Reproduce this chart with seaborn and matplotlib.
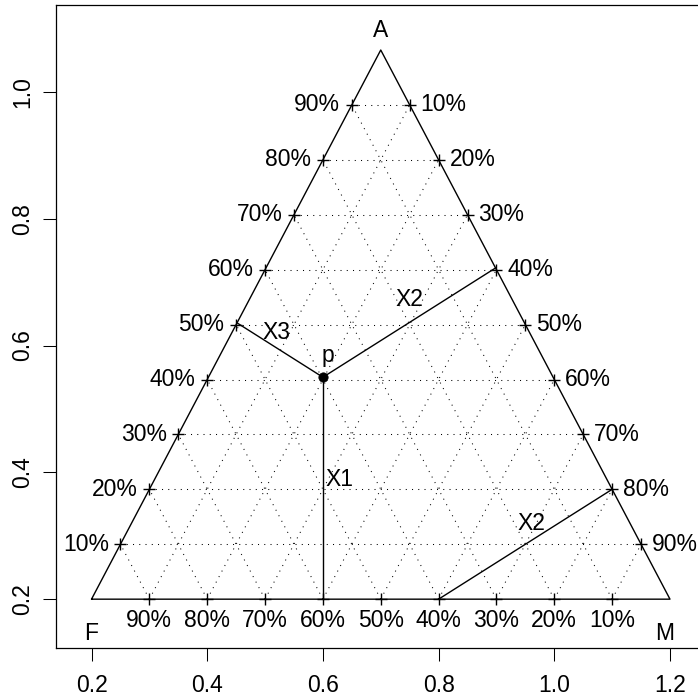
import numpy as np
import matplotlib
matplotlib.use("Agg")
import matplotlib.pyplot as plt
import seaborn as sns

# triangle corners (F, M, A) and the point p
corner_names = ["F", "M", "A"]
corner_x = [0.2, 1.2, 0.7]
corner_y = [0.2, 0.2, 0.2 + np.sqrt(3) / 2]
p_x, p_y = 0.6, 0.55
# second X2 segment, parallel to the one from p
x2b_x = [0.8, 1.1]
x2b_y = [0.2, 0.2 + 0.3 * np.tan(np.pi / 6)]
levels = [10, 20, 30, 40, 50, 60, 70, 80, 90]

sns.set_theme(style="ticks")
plt.rcParams["font.family"] = ["Liberation Sans", "DejaVu Sans"]
plt.rcParams["text.color"] = "black"
plt.rcParams["xtick.color"] = "black"
plt.rcParams["ytick.color"] = "black"
plt.rcParams["xtick.labelcolor"] = "black"
plt.rcParams["ytick.labelcolor"] = "black"
FS = 16.5

fig = plt.figure(figsize=(6.98, 6.97), dpi=100)
ax = fig.add_axes([56 / 698, 49 / 697, 649.5 / 698, 643 / 697])

F = np.array([corner_x[0], corner_y[0]])
M = np.array([corner_x[1], corner_y[1]])
A = np.array([corner_x[2], corner_y[2]])

dot = dict(color="black", lw=0.75, linestyle=(0, (1, 5)))
solid = dict(color="black", lw=1.0)

# dotted grid, three directions
for lv in levels:
    f = lv / 100
    left = F + f * (A - F)
    right = M + f * (A - M)
    bot = F + f * (M - F)
    ax.plot([left[0], right[0]], [left[1], right[1]], **dot)
    ax.plot([bot[0], M[0] + (1 - f) * (A - M)[0]], [bot[1], M[1] + (1 - f) * (A - M)[1]], **dot)
    ax.plot([bot[0], F[0] + f * (A - F)[0]], [bot[1], F[1] + f * (A - F)[1]], **dot)

# triangle outline
ax.plot(corner_x + [corner_x[0]], corner_y + [corner_y[0]], **solid)

# perpendiculars from p to the three sides
p = np.array([p_x, p_y])


def foot(a, b):
    d = (b - a) / np.linalg.norm(b - a)
    return a + np.dot(p - a, d) * d


for a, b in [(F, M), (M, A), (F, A)]:
    q = foot(a, b)
    ax.plot([p[0], q[0]], [p[1], q[1]], **solid)
ax.plot(x2b_x, x2b_y, **solid)

# + marks and percent labels along the edges
for lv in levels:
    f = lv / 100
    left = F + f * (A - F)
    right = A + f * (M - A)
    bot = M + f * (F - M)
    for pt in (left, right, bot):
        ax.plot(pt[0], pt[1], marker="+", ms=9, mew=1.0, color="black", clip_on=False)
    ax.text(left[0] - 0.02, left[1], f"{lv}%", ha="right", va="center", fontsize=FS)
    ax.text(right[0] + 0.019, right[1], f"{lv}%", ha="left", va="center", fontsize=FS)
    ax.text(bot[0], 0.167, f"{lv}%", ha="center", va="center", fontsize=FS)

sns.scatterplot(x=[p_x], y=[p_y], color="black", s=45, edgecolor="black", ax=ax, zorder=5)

ax.text(0.2, 0.146, "F", ha="center", va="center", fontsize=FS)
ax.text(1.19, 0.146, "M", ha="center", va="center", fontsize=FS)
ax.text(0.7, 1.096, "A", ha="center", va="center", fontsize=FS)
ax.text(0.609, 0.585, "p", ha="center", va="center", fontsize=FS)
ax.text(0.629, 0.388, "X1", ha="center", va="center", fontsize=FS)
ax.text(0.749, 0.672, "X2", ha="center", va="center", fontsize=FS)
ax.text(0.519, 0.62, "X3", ha="center", va="center", fontsize=FS)
ax.text(0.961, 0.32, "X2", ha="center", va="center", fontsize=FS)

ax.set_xlim(0.1386, 1.2614)
ax.set_ylim(0.123, 1.137)
ax.set_xticks([0.2, 0.4, 0.6, 0.8, 1.0, 1.2])
ax.set_xticklabels(["0.2", "0.4", "0.6", "0.8", "1.0", "1.2"], fontsize=FS)
ax.set_yticks([0.2, 0.4, 0.6, 0.8, 1.0])
ax.set_yticklabels(["0.2", "0.4", "0.6", "0.8", "1.0"], fontsize=FS, rotation=90, va="center")
ax.tick_params(axis="x", direction="out", length=9.4, width=0.75, pad=9, color="black")
ax.tick_params(axis="y", direction="out", length=9.4, width=0.75, pad=6, color="black")
for s in ax.spines.values():
    s.set_visible(True)
    s.set_linewidth(0.9)
    s.set_color("black")

fig.savefig("out.png", dpi=100)
